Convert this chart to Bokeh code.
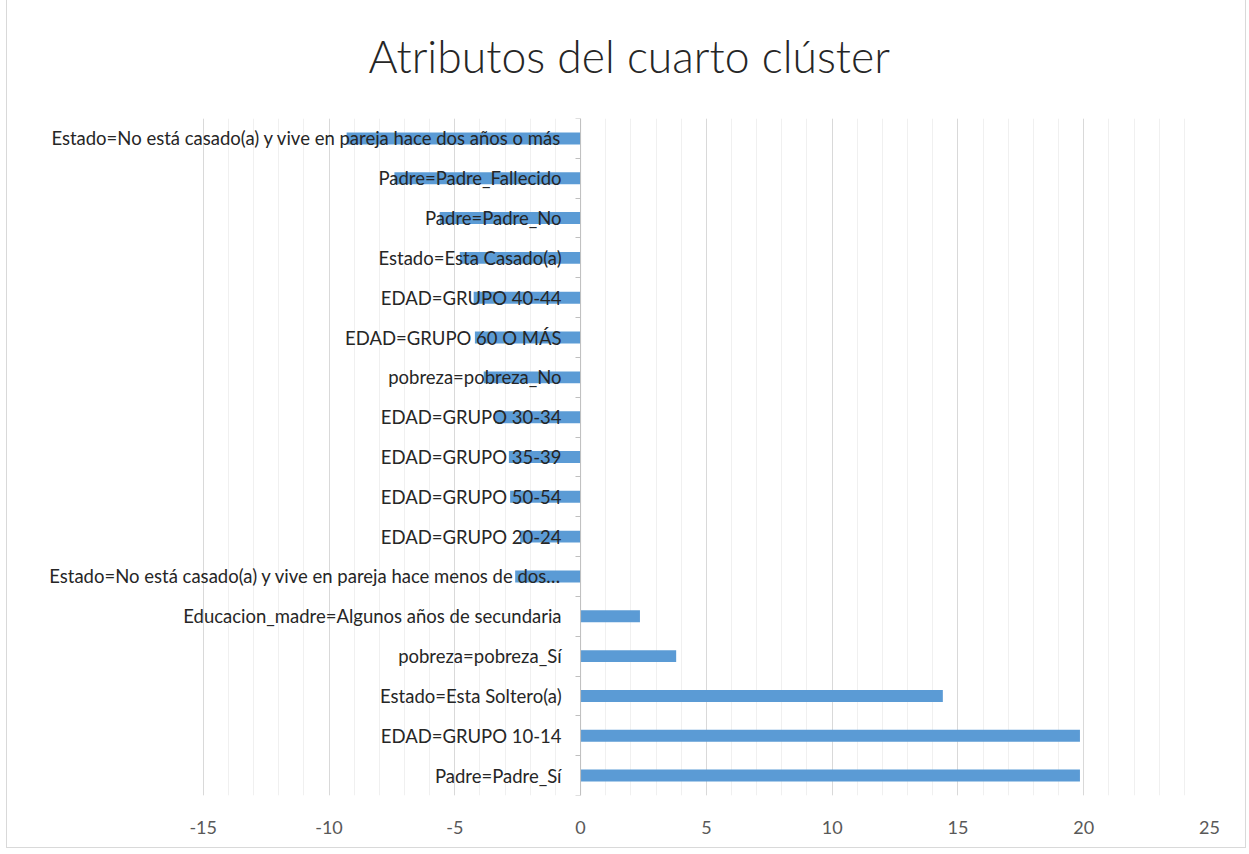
from bokeh.plotting import figure
from bokeh.models import (ColumnDataSource, Span, Range1d, FixedTicker, Title, LinearAxis)
from bokeh.embed import file_html
from bokeh.resources import INLINE

# ---- data (top to bottom as shown) ----
categories = [
    "Estado=No está casado(a) y vive en pareja hace dos años o más",
    "Padre=Padre_Fallecido",
    "Padre=Padre_No",
    "Estado=Esta Casado(a)",
    "EDAD=GRUPO 40-44",
    "EDAD=GRUPO 60 O MÁS",
    "pobreza=pobreza_No",
    "EDAD=GRUPO 30-34",
    "EDAD=GRUPO 35-39",
    "EDAD=GRUPO 50-54",
    "EDAD=GRUPO 20-24",
    "Estado=No está casado(a) y vive en pareja hace menos de dos…",
    "Educacion_madre=Algunos años de secundaria",
    "pobreza=pobreza_Sí",
    "Estado=Esta Soltero(a)",
    "EDAD=GRUPO 10-14",
    "Padre=Padre_Sí",
]
values = [-9.3, -7.4, -5.6, -4.8, -4.25, -4.2, -3.85, -3.4, -2.85, -2.8,
          -2.4, -2.6, 2.36, 3.8, 14.4, 19.85, 19.85]
x_ticks = [-15, -10, -5, 0, 5, 10, 15, 20, 25]
x_tick_labels = ["-15", "-10", "-5", "0", "5", "10", "15", "20", "25"]
title_text = "Atributos del cuarto clúster"

FONT = "Lato"
n = len(categories)
pos = list(range(n))

src = ColumnDataSource(dict(cat=categories, val=values, zero=[0] * n, pos=pos))

# frame extends left to hold the long category labels (which sit left of x=0)
p = figure(
    width=1240, height=860,
    y_range=Range1d(n - 0.5, -0.5),
    x_range=Range1d(-22.78, x_ticks[-1]),
    output_backend="svg", toolbar_location=None,
    min_border_left=0, min_border_right=38,
    min_border_top=128, min_border_bottom=860 - 128 - 678,
)
p.styles = {"border": "1px solid #d9d9d9", "margin-left": "6px", "margin-top": "-12px"}
p.outline_line_color = None
p.background_fill_color = "white"
p.border_fill_color = "white"

# title
t = Title(text=title_text, align="left", text_font="Lato Light", text_font_size="44.5px",
          text_font_style="normal", text_color="#262626", standoff=74, offset=361)
p.title = t

# grid (major every 5, minor every 1, only across the value span)
p.xaxis.ticker = FixedTicker(ticks=x_ticks,
                             minor_ticks=list(range(x_ticks[0], x_ticks[-1] + 1)))
p.xaxis.major_label_overrides = {v: s for v, s in zip(x_ticks, x_tick_labels)}
p.xgrid.grid_line_color = "#d9d9d9"
p.xgrid.grid_line_width = 1
p.xgrid.minor_grid_line_color = "#f0f0f0"
p.ygrid.grid_line_color = None

# x axis
p.xaxis.axis_line_color = None
p.xaxis.major_tick_line_color = None
p.xaxis.minor_tick_line_color = None
p.xaxis.major_label_text_font = FONT
p.xaxis.major_label_text_font_size = "18px"
p.xaxis.major_label_text_color = "#595959"
p.xaxis.major_label_standoff = 19

# bars
p.hbar(y="pos", left="zero", right="val", height=0.3, source=src,
       fill_color="#5b9bd5", line_color=None)

# axis line at zero
p.add_layout(Span(location=0, dimension="height", line_color="#bfbfbf", line_width=1))

# y axis at zero: category labels (drawn over bars)
p.yaxis.fixed_location = 0
p.yaxis.ticker = FixedTicker(ticks=pos)
p.yaxis.major_label_overrides = {i: c for i, c in zip(pos, categories)}
p.yaxis.axis_line_color = None
p.yaxis.major_tick_line_color = None
p.yaxis.major_tick_out = 0
p.yaxis.major_tick_in = 0
p.yaxis.minor_tick_line_color = None
p.yaxis.major_label_text_font = FONT
p.yaxis.major_label_text_font_size = "18.5px"
p.yaxis.major_label_text_color = "#262626"
p.yaxis.major_label_standoff = 19

# second axis at zero: tick marks at category boundaries only
tick_axis = LinearAxis(ticker=FixedTicker(ticks=[i - 0.5 for i in range(n + 1)]),
                       fixed_location=0, axis_line_color=None,
                       major_tick_line_color="#bfbfbf", major_tick_out=5, major_tick_in=0,
                       minor_tick_line_color=None, major_label_text_font_size="0px",
                       major_label_text_color=None)
p.add_layout(tick_axis, "left")

open("out.html", "w").write(file_html(p, INLINE))
